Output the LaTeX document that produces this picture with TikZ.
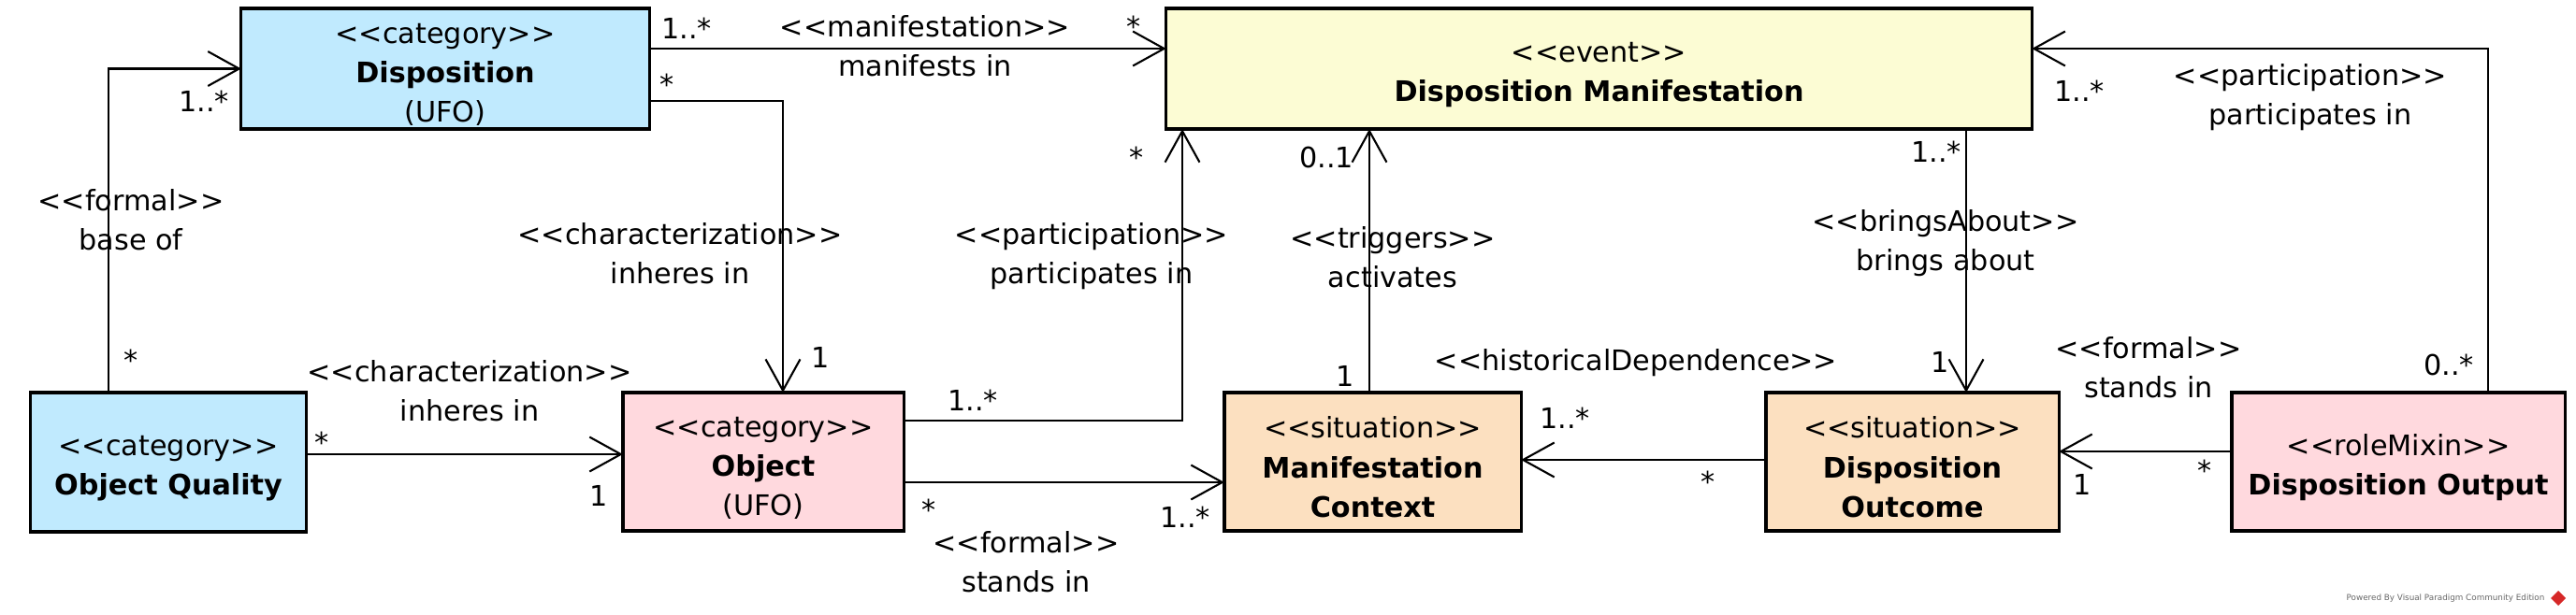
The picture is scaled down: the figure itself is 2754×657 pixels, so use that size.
\documentclass[tikz,border=0pt]{standalone}
\usepackage{fontspec}
\setmainfont{DejaVu Sans}
\usepackage{tikz}
\usetikzlibrary{arrows.meta}
\definecolor{catclr}{RGB}{192,234,254}
\definecolor{evtclr}{RGB}{252,252,212}
\definecolor{objclr}{RGB}{255,217,222}
\definecolor{sitclr}{RGB}{252,224,192}
\definecolor{vpclr}{RGB}{102,102,102}
\definecolor{logoclr}{RGB}{214,40,40}
\newcommand\stereo[1]{<\kern0pt<#1>\kern0pt>}
\newcommand\clsstereo[1]{\rule{0pt}{9.8pt}\stereo{#1}}
\tikzset{ %
  ,>={Straight Barb[length=9.5pt,width=10.5pt]}
  ,every node/.style={font=\fontsize{8.6}{12}\selectfont}
  ,cls/.style={draw, line width=0.9pt, inner sep=0, outer sep=0, align=center}
  ,assoc/.style={->, line width=0.6pt}
  ,mult/.style={inner sep=0, anchor=base}
  ,role/.style={inner sep=0, align=center}
}

\begin{document}
\begin{tikzpicture}[x=0.01cm, y=-0.01cm]
  \useasboundingbox (0,0) rectangle (2754,657);
  % classes
  \node[cls, fill=catclr, minimum width=4.36cm, minimum height=1.29cm] (dispo) at (476,73.5)
    {\clsstereo{category}\\\textbf{Disposition}\\(UFO)};
  \node[cls, fill=evtclr, minimum width=9.25cm, minimum height=1.29cm] (manif) at (1709.5,73.5)
    {\clsstereo{event}\\\textbf{Disposition Manifestation}};
  \node[cls, fill=catclr, minimum width=2.94cm, minimum height=1.49cm] (oquality) at (180,494.5)
    {\clsstereo{category}\\\textbf{Object Quality}};
  \node[cls, fill=objclr, minimum width=3.00cm, minimum height=1.48cm] (object) at (816,494)
    {\clsstereo{category}\\\textbf{Object}\\(UFO)};
  \node[cls, fill=sitclr, minimum width=3.17cm, minimum height=1.48cm] (mctx) at (1467.5,494)
    {\clsstereo{situation}\\\textbf{Manifestation}\\\textbf{Context}};
  \node[cls, fill=sitclr, minimum width=3.13cm, minimum height=1.48cm] (doutcome) at (2044.5,494)
    {\clsstereo{situation}\\\textbf{Disposition}\\\textbf{Outcome}};
  \node[cls, fill=objclr, minimum width=3.56cm, minimum height=1.48cm] (doutput) at (2564,494)
    {\clsstereo{roleMixin}\\\textbf{Disposition Output}};

  % associations
  \draw[assoc] (oquality.north -| 116,0) |- (dispo.west);
  \draw[assoc] (dispo.east |- 0,52) -- (manif.west |- 0,52);
  \draw[assoc] (dispo.east |- 0,108) -| (object.north -| 837,0);
  \draw[assoc] (oquality.east |- 0,486) -- (object.west |- 0,486);
  \draw[assoc] (object.east |- 0,450) -| (manif.south -| 1264,0);
  \draw[assoc] (mctx.north -| 1464,0) -- (manif.south -| 1464,0);
  \draw[assoc] (manif.south -| 2102,0) -- (doutcome.north -| 2102,0);
  \draw[assoc] (doutput.north -| 2660,0) |- (manif.east |- 0,52);
  \draw[assoc] (doutcome.west |- 0,492) -- (mctx.east |- 0,492);
  \draw[assoc] (doutput.west |- 0,483) -- (doutcome.east |- 0,483);
  \draw[assoc] (object.east |- 0,516) -- (mctx.west |- 0,516);

  % association names
  \node[role] (l1) at (140,235) {\stereo{formal}\\base of};
  \node[role] (l2) at (989,49) {\stereo{manifestation}\\manifests in};
  \node[role] (l3) at (727,271) {\stereo{characterization}\\inheres in};
  \node[role] (l4) at (502,418) {\stereo{characterization}\\inheres in};
  \node[role] (l5) at (1167,274) {\stereo{participation}\\participates in};
  \node[role] (l6) at (1489,275) {\stereo{triggers}\\activates};
  \node[role] (l7) at (2080,260) {\stereo{bringsAbout}\\brings about};
  \node[role] (l8) at (2470,104) {\stereo{participation}\\participates in};
  \node[role] (l9) at (1749,388) {\stereo{historicalDependence}};
  \node[role] (l10) at (2297,393) {\stereo{formal}\\stands in};
  \node[role] (l11) at (1097,601) {\stereo{formal}\\stands in};

  % multiplicities
  \node[mult] (m1a) at (218,119) {1..*};
  \node[mult] (m1b) at (140,396) {*};
  \node[mult] (m2a) at (734,41) {1..*};
  \node[mult] (m2b) at (1212,39) {*};
  \node[mult] (m3a) at (713,101) {*};
  \node[mult] (m3b) at (877,393) {1};
  \node[mult] (m4a) at (344,484) {*};
  \node[mult] (m4b) at (640,541) {1};
  \node[mult] (m5a) at (1040,439) {1..*};
  \node[mult] (m5b) at (1215,179) {*};
  \node[mult] (m6a) at (1418,179) {0..1};
  \node[mult] (m6b) at (1438,413) {1};
  \node[mult] (m7a) at (2070,173) {1..*};
  \node[mult] (m7b) at (2074,398) {1};
  \node[mult] (m8a) at (2223,108) {1..*};
  \node[mult] (m8b) at (2618,401) {0..*};
  \node[mult] (m9a) at (1673,458) {1..*};
  \node[mult] (m9b) at (1826,526) {*};
  \node[mult] (m10a) at (2226,529) {1};
  \node[mult] (m10b) at (2357,514) {*};
  \node[mult] (m11a) at (993,556) {*};
  \node[mult] (m11b) at (1267,564) {1..*};

  % watermark
  \node[inner sep=0, anchor=east, text=vpclr, font=\fontsize{2.5}{3}\selectfont] (vp) at (2721,640)
    {Powered By Visual Paradigm Community Edition};
  \fill[logoclr] (2735,632) -- (2743,640) -- (2735,648) -- (2727,640) -- cycle;
\end{tikzpicture}
\end{document}
